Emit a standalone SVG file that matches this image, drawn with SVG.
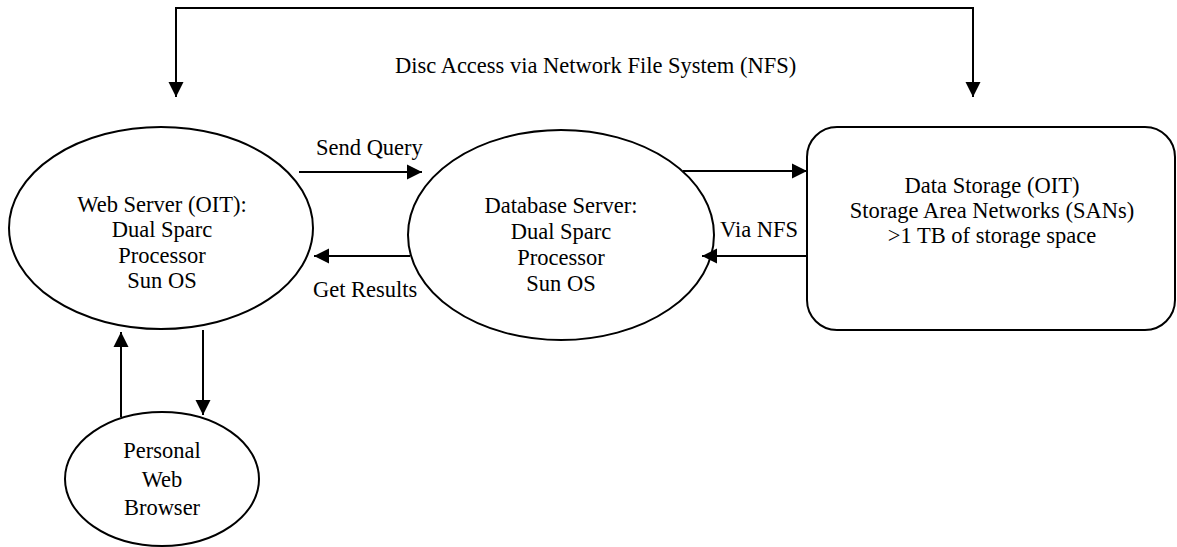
<svg xmlns="http://www.w3.org/2000/svg" width="1177" height="547" viewBox="0 0 1177 547">
<defs>
<marker id="ah" markerUnits="userSpaceOnUse" markerWidth="16" markerHeight="16" refX="15" refY="8" orient="auto-start-reverse">
<path d="M0,0.5 L15,8 L0,15.5 z" fill="#000"/>
</marker>
<style>
.n{fill:#fff;stroke:#000;stroke-width:2}
.c{fill:none;stroke:#000;stroke-width:2}
text{font-family:"Liberation Serif","Times New Roman",serif;font-size:22.5px;fill:#000}
.m{text-anchor:middle}
</style>
</defs>
<rect width="1177" height="547" fill="#fff"/>
<g id="web">
<ellipse class="n" cx="161" cy="228" rx="152" ry="101"/>
<text class="m" x="162" y="212">Web Server (OIT):</text>
<text class="m" x="162" y="237">Dual Sparc</text>
<text class="m" x="162" y="263">Processor</text>
<text class="m" x="162" y="288">Sun OS</text>
</g>
<g id="db">
<ellipse class="n" cx="561" cy="235" rx="153" ry="105"/>
<text class="m" x="561" y="213">Database Server:</text>
<text class="m" x="561" y="239">Dual Sparc</text>
<text class="m" x="561" y="265">Processor</text>
<text class="m" x="561" y="291">Sun OS</text>
</g>
<g id="storage">
<rect class="n" x="807" y="127" width="368" height="203" rx="30" ry="30"/>
<text class="m" x="992" y="193">Data Storage (OIT)</text>
<text class="m" x="992" y="218">Storage Area Networks (SANs)</text>
<text class="m" x="992" y="243">&gt;1 TB of storage space</text>
</g>
<g id="browser">
<ellipse class="n" cx="162" cy="479" rx="97" ry="67"/>
<text class="m" x="162" y="458">Personal</text>
<text class="m" x="162" y="487">Web</text>
<text class="m" x="162" y="515">Browser</text>
</g>
<g id="connectors">
<path class="c" d="M176,97 V8 H973 V97" marker-start="url(#ah)" marker-end="url(#ah)"/>
<path class="c" d="M299,172 H422" marker-end="url(#ah)"/>
<path class="c" d="M410,256 H314" marker-end="url(#ah)"/>
<path class="c" d="M683,171 H807" marker-end="url(#ah)"/>
<path class="c" d="M807,256 H702" marker-end="url(#ah)"/>
<path class="c" d="M121,417 V332" marker-end="url(#ah)"/>
<path class="c" d="M203,330 V415" marker-end="url(#ah)"/>
</g>
<g id="labels">
<text x="395" y="73">Disc Access via Network File System (NFS)</text>
<text x="316" y="155">Send Query</text>
<text x="313" y="297">Get Results</text>
<text x="720" y="237">Via NFS</text>
</g>
</svg>
